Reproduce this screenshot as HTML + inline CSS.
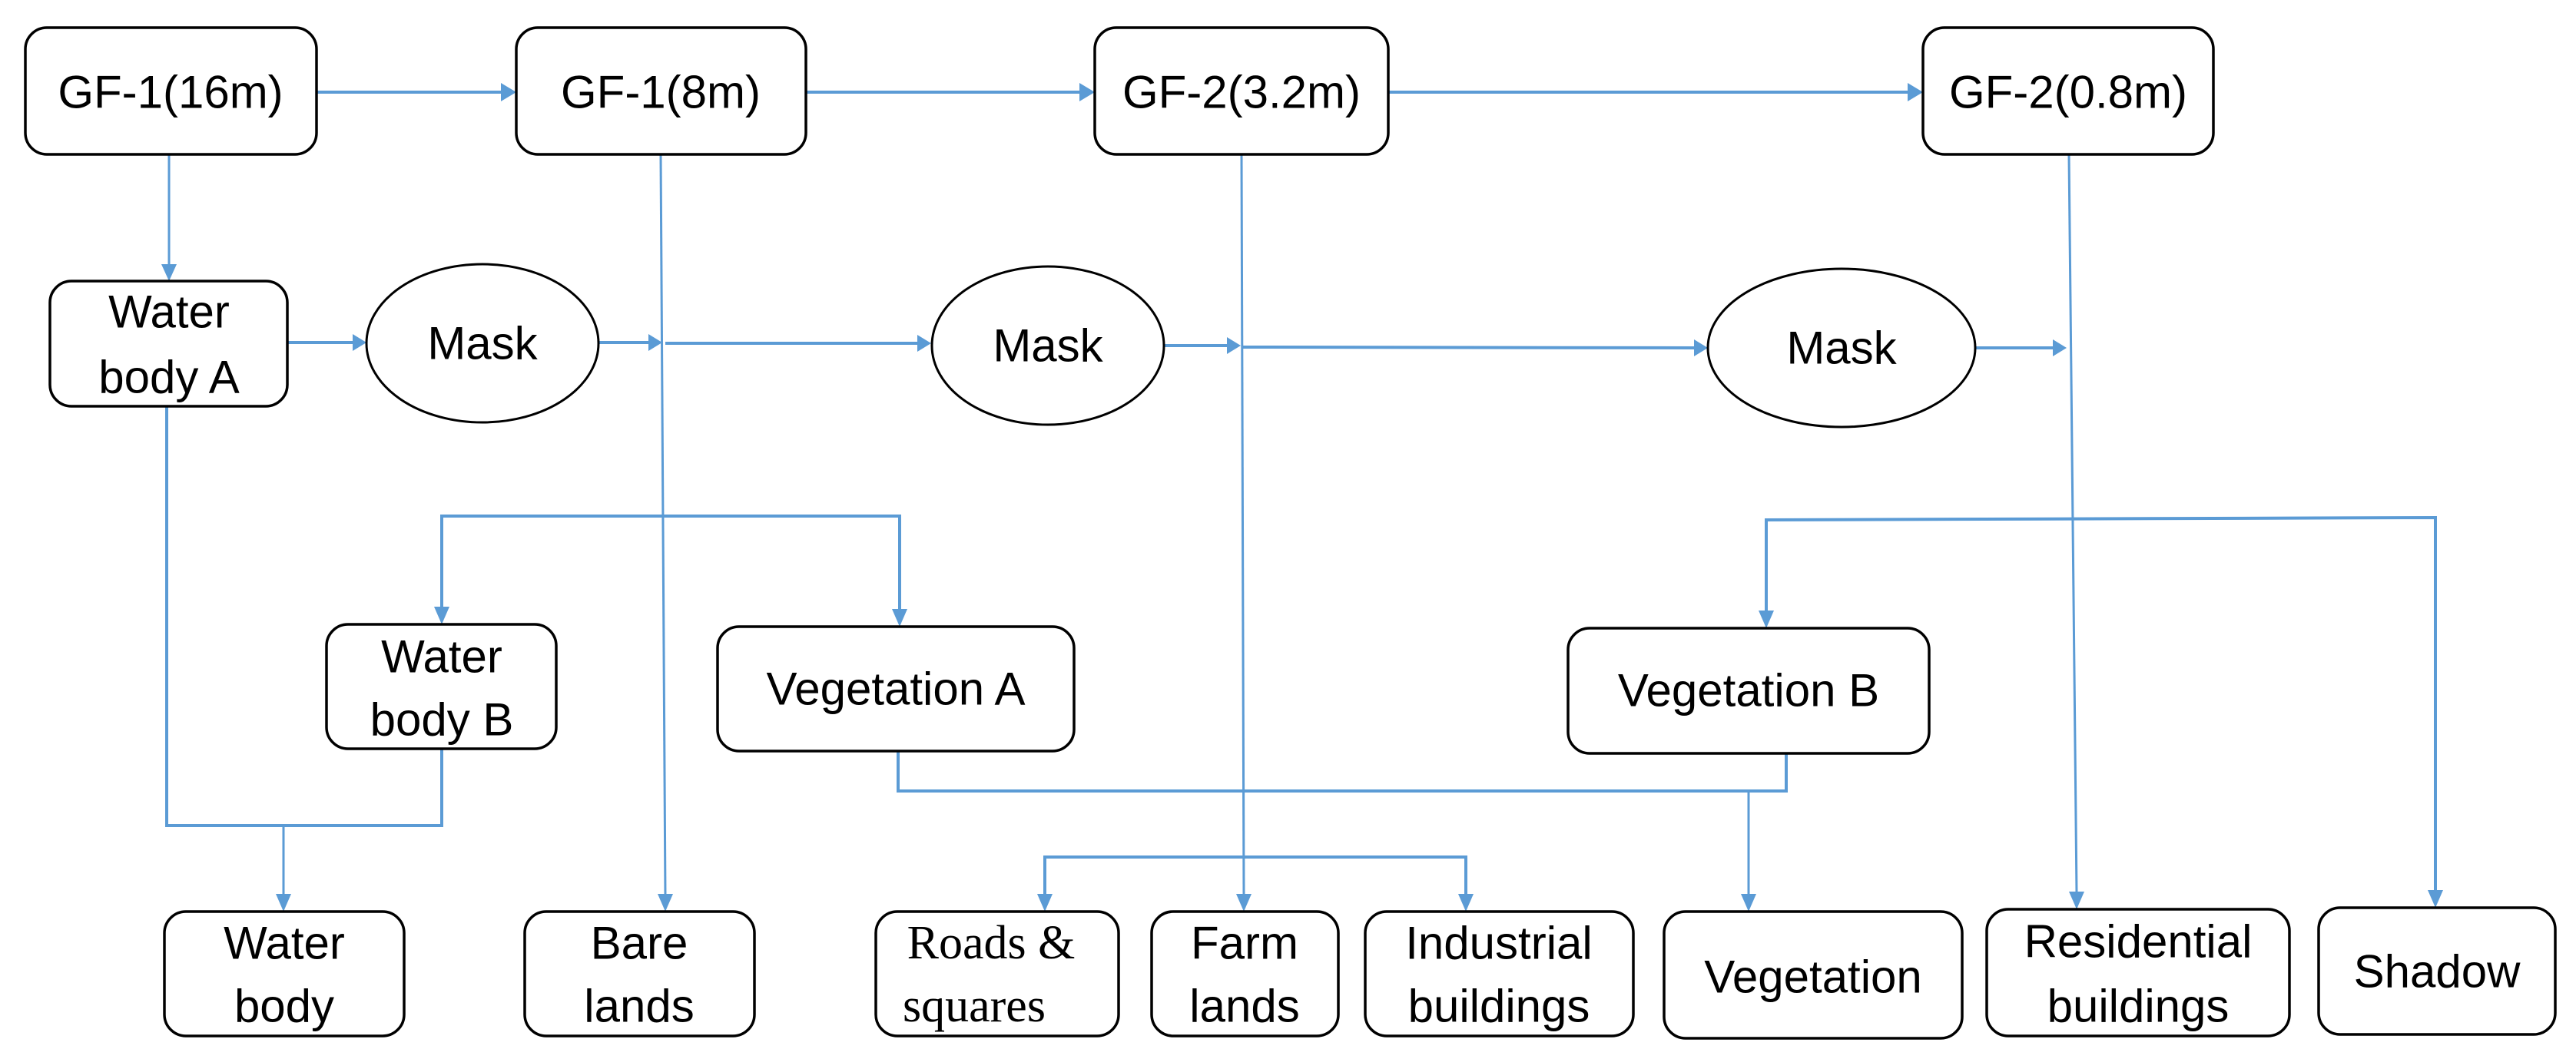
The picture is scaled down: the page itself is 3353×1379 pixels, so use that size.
<!DOCTYPE html>
<html><head><meta charset="utf-8"><style>
html,body{margin:0;padding:0;background:#fff;}
svg{display:block;}
text{font-family:"Liberation Sans",sans-serif;font-size:60px;fill:#000;text-anchor:middle;dominant-baseline:central;}
.r{fill:#fff;stroke:#000;stroke-width:3.5;}
.l{stroke:#5B9BD5;stroke-width:4;fill:none;}
.t{stroke:#5B9BD5;stroke-width:3;fill:none;}
</style></head><body>
<svg width="3353" height="1379" viewBox="0 0 3353 1379" xmlns="http://www.w3.org/2000/svg">
<g>
<line class="l" x1="412" y1="120" x2="655" y2="120"/><polygon fill="#5B9BD5" points="672,120 652,108 652,132"/>
<line class="l" x1="1049" y1="120" x2="1408" y2="120"/><polygon fill="#5B9BD5" points="1425,120 1405,108 1405,132"/>
<line class="l" x1="1807" y1="120" x2="2486" y2="120"/><polygon fill="#5B9BD5" points="2503,120 2483,108 2483,132"/>
<line class="t" x1="220" y1="201" x2="220" y2="350"/><polygon fill="#5B9BD5" points="220,366 210,344 230,344"/>
<line class="l" x1="374" y1="446" x2="460" y2="446"/><polygon fill="#5B9BD5" points="477,446 459,435 459,457"/>
<line class="l" x1="780" y1="446" x2="845" y2="446"/><polygon fill="#5B9BD5" points="862,446 844,435 844,457"/>
<line class="l" x1="866" y1="447" x2="1195" y2="447"/><polygon fill="#5B9BD5" points="1212,447 1194,436 1194,458"/>
<line class="l" x1="1515" y1="450" x2="1598" y2="450"/><polygon fill="#5B9BD5" points="1615,450 1597,439 1597,461"/>
<line class="l" x1="1618" y1="452" x2="2206" y2="453"/><polygon fill="#5B9BD5" points="2223,453 2205,442 2205,464"/>
<line class="l" x1="2571" y1="453" x2="2673" y2="453"/><polygon fill="#5B9BD5" points="2690,453 2672,442 2672,464"/>
<line class="t" x1="860" y1="201" x2="866" y2="1168"/><polygon fill="#5B9BD5" points="866,1187 856,1164 876,1164"/>
<line class="t" x1="1616" y1="201" x2="1619" y2="1166"/><polygon fill="#5B9BD5" points="1619,1187 1609,1164 1629,1164"/>
<line class="t" x1="2693" y1="201" x2="2703" y2="1163"/><polygon fill="#5B9BD5" points="2703,1184 2693,1161 2713,1161"/>
<polyline class="l" points="217,529 217,1075 575,1075 575,975"/>
<line class="t" x1="369" y1="1075" x2="369" y2="1166"/><polygon fill="#5B9BD5" points="369,1187 359,1164 379,1164"/>
<polyline class="l" points="575,794 575,672 1171,672 1171,794"/>
<polygon fill="#5B9BD5" points="575,813 565,790 585,790"/>
<polygon fill="#5B9BD5" points="1171,816 1161,793 1181,793"/>
<polyline class="l" points="2299,796 2299,677 3170,674 3170,1160"/>
<polygon fill="#5B9BD5" points="2299,818 2289,795 2309,795"/>
<polygon fill="#5B9BD5" points="3170,1182 3160,1159 3180,1159"/>
<polyline class="l" points="1169,978 1169,1030 2325,1030 2325,981"/>
<line class="t" x1="2276" y1="1030" x2="2276" y2="1166"/><polygon fill="#5B9BD5" points="2276,1187 2266,1164 2286,1164"/>
<polyline class="l" points="1360,1166 1360,1116 1908,1116 1908,1166"/>
<polygon fill="#5B9BD5" points="1360,1187 1350,1164 1370,1164"/>
<polygon fill="#5B9BD5" points="1908,1187 1898,1164 1918,1164"/>
</g>
<rect class="r" x="33" y="36" width="379" height="165" rx="28"/><text x="222" y="120">GF-1(16m)</text>
<rect class="r" x="672" y="36" width="377" height="165" rx="28"/><text x="860" y="120">GF-1(8m)</text>
<rect class="r" x="1425" y="36" width="382" height="165" rx="28"/><text x="1616" y="120">GF-2(3.2m)</text>
<rect class="r" x="2503" y="36" width="378" height="165" rx="28"/><text x="2692" y="120">GF-2(0.8m)</text>
<rect class="r" x="65" y="366" width="309" height="163" rx="28"/><text x="220" y="406">Water</text><text x="220" y="491">body A</text>
<ellipse class="r" cx="628" cy="447" rx="151" ry="103" style="stroke-width:3"/><text x="628" y="447">Mask</text>
<ellipse class="r" cx="1364" cy="450" rx="151" ry="103" style="stroke-width:3"/><text x="1364" y="450">Mask</text>
<ellipse class="r" cx="2397" cy="453" rx="174" ry="103" style="stroke-width:3"/><text x="2397" y="453">Mask</text>
<rect class="r" x="425" y="813" width="299" height="162" rx="28"/><text x="575" y="855">Water</text><text x="575" y="937">body B</text>
<rect class="r" x="934" y="816" width="464" height="162" rx="28"/><text x="1166" y="897">Vegetation A</text>
<rect class="r" x="2041" y="818" width="470" height="163" rx="28"/><text x="2276" y="899">Vegetation B</text>
<rect class="r" x="214" y="1187" width="312" height="162" rx="28"/><text x="370" y="1228">Water</text><text x="370" y="1310">body</text>
<rect class="r" x="683" y="1187" width="299" height="162" rx="28"/><text x="832" y="1228">Bare</text><text x="832" y="1310">lands</text>
<rect class="r" x="1140" y="1187" width="316" height="162" rx="28"/><text x="1290" y="1228" style="font-family:'Liberation Serif',serif;font-size:62px">Roads &amp;</text><text x="1268" y="1310" style="font-family:'Liberation Serif',serif;font-size:62px">squares</text>
<rect class="r" x="1499" y="1187" width="243" height="162" rx="28"/><text x="1620" y="1228">Farm</text><text x="1620" y="1310">lands</text>
<rect class="r" x="1777" y="1187" width="349" height="162" rx="28"/><text x="1951" y="1228">Industrial</text><text x="1951" y="1310">buildings</text>
<rect class="r" x="2166" y="1187" width="388" height="165" rx="28"/><text x="2360" y="1272">Vegetation</text>
<rect class="r" x="2586" y="1184" width="394" height="165" rx="28"/><text x="2783" y="1226">Residential</text><text x="2783" y="1310">buildings</text>
<rect class="r" x="3018" y="1182" width="308" height="165" rx="28"/><text x="3172" y="1265">Shadow</text>
</svg>
</body></html>
